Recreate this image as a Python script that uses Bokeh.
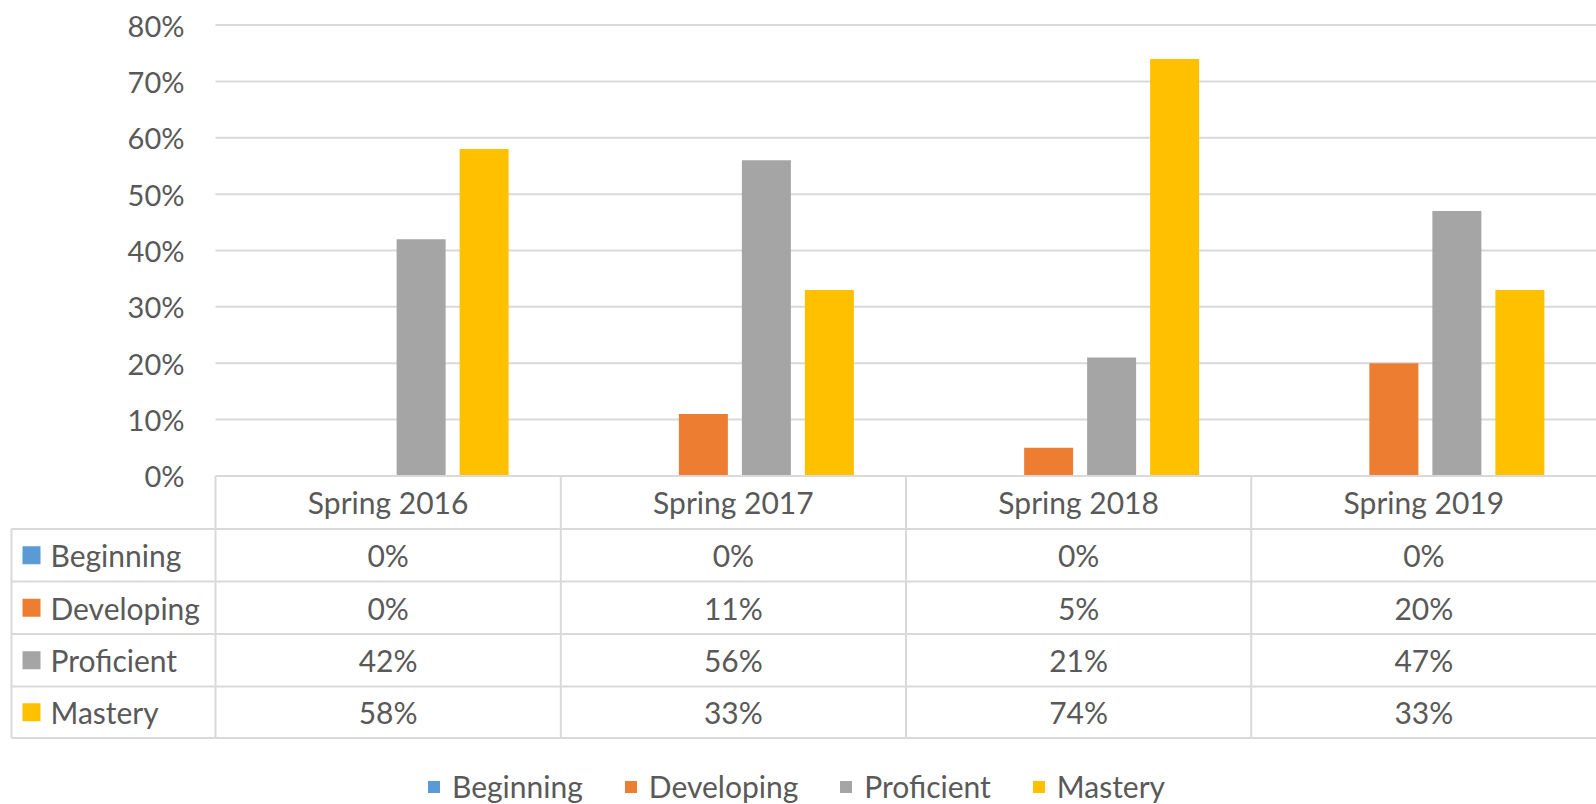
import numpy as np
from bokeh.plotting import figure
from bokeh.models import Range1d, Legend, LegendItem
from bokeh.core.properties import value
from bokeh.embed import file_html
from bokeh.resources import INLINE

# ---------------- data ----------------
periods = ["Spring 2016", "Spring 2017", "Spring 2018", "Spring 2019"]
levels = ["Beginning", "Developing", "Proficient", "Mastery"]
beginning = [0.00, 0.00, 0.00, 0.00]
developing = [0.00, 0.11, 0.05, 0.20]
proficient = [0.42, 0.56, 0.21, 0.47]
mastery = [0.58, 0.33, 0.74, 0.33]
y_ticks = [0.0, 0.1, 0.2, 0.3, 0.4, 0.5, 0.6, 0.7, 0.8]
y_tick_labels = ["0%", "10%", "20%", "30%", "40%", "50%", "60%", "70%", "80%"]
colors = ["#5B9BD5", "#ED7D31", "#A5A5A5", "#FFC000"]

series = [beginning, developing, proficient, mastery]

# ---------------- layout (canvas pixels) ----------------
W, H = 1596, 804
X_L, X_R = 215.0, 1596.0          # category area
PY_TOP, PY_ZERO = 24.6, 475.4     # 80% line and 0% line
Y_MAX = 0.8
SX = (X_R - X_L) / len(periods)
SY = (PY_ZERO - PY_TOP) / Y_MAX

def fx(px):
    return (px - X_L) / SX

def fy(py):
    return (PY_ZERO - py) / SY

FONT = value("Lato")
FS = "30px"
FS_AX = "29px"
TXT = "#595959"
LINE = "#D9D9D9"

p = figure(width=W, height=H, output_backend="svg", toolbar_location=None,
           x_range=Range1d(fx(0), fx(W)), y_range=Range1d(fy(H), fy(0)),
           x_axis_location=None, y_axis_location=None, min_border=0,
           outline_line_color=None, background_fill_color="white",
           border_fill_color="white")
p.xgrid.visible = False
p.ygrid.visible = False

# gridlines
n = len(periods)
p.segment(x0=[0] * (len(y_ticks) - 1), x1=[n] * (len(y_ticks) - 1),
          y0=y_ticks[1:], y1=y_ticks[1:], line_color=LINE, line_width=2)

# y tick labels
p.text(x=[fx(184)] * len(y_ticks), y=y_ticks, text=y_tick_labels,
       text_font=FONT, text_font_size=FS_AX, text_color=TXT,
       text_align="right", text_baseline="middle")

# bars
step = 63.0 / SX
bw = 49.0 / SX
centers = np.arange(n) + 0.5
renderers = []
for k, (vals, col) in enumerate(zip(series, colors)):
    xs = centers + (k - 1.5) * step + 1.5 / SX
    r = p.vbar(x=xs, top=vals, width=bw, bottom=0, fill_color=col, line_color=None)
    renderers.append(r)

# ---------------- data table ----------------
row_py = [475.4, 528.5, 581.0, 633.5, 686.0, 737.5]
row_y = [fy(v) for v in row_py]
left_x = fx(11)
col_x = [0, 1, 2, 3]

# horizontal lines
hx0 = [0] + [left_x] * 5
hx1 = [n] * 6
p.segment(x0=hx0, x1=hx1, y0=row_y, y1=row_y, line_color=LINE, line_width=2)
# vertical lines
vx = [left_x] + col_x
vy0 = [row_y[1]] + [row_y[0]] * len(col_x)
vy1 = [row_y[-1]] * len(vx)
p.segment(x0=vx, x1=vx, y0=vy0, y1=vy1, line_color=LINE, line_width=2)

# header
hdr_y = (row_y[0] + row_y[1]) / 2
p.text(x=list(centers), y=[hdr_y] * n, text=periods, text_font=FONT,
       text_font_size=FS, text_color=TXT, text_align="center", text_baseline="middle")

# rows
for i, (lvl, vals, col) in enumerate(zip(levels, series, colors)):
    ymid = (row_y[i + 1] + row_y[i + 2]) / 2
    p.scatter(x=[fx(31)], y=[ymid], marker="square", size=18,
              fill_color=col, line_color=None)
    p.text(x=[fx(50)], y=[ymid], text=[lvl], text_font=FONT, text_font_size=FS,
           text_color=TXT, text_align="left", text_baseline="middle")
    p.text(x=list(centers), y=[ymid] * n, text=[f"{round(v * 100)}%" for v in vals],
           text_font=FONT, text_font_size=FS, text_color=TXT,
           text_align="center", text_baseline="middle")

# ---------------- legend ----------------
legend = Legend(items=[LegendItem(label=l, renderers=[r]) for l, r in zip(levels, renderers)],
                orientation="horizontal", location=(426, 0),
                glyph_width=15, glyph_height=15, label_standoff=11, spacing=40,
                padding=0, margin=0, border_line_color=None, background_fill_alpha=0,
                label_text_font="Lato", label_text_font_size=FS, label_text_color=TXT)
p.add_layout(legend)

open("out.html", "w").write(file_html(p, INLINE))
